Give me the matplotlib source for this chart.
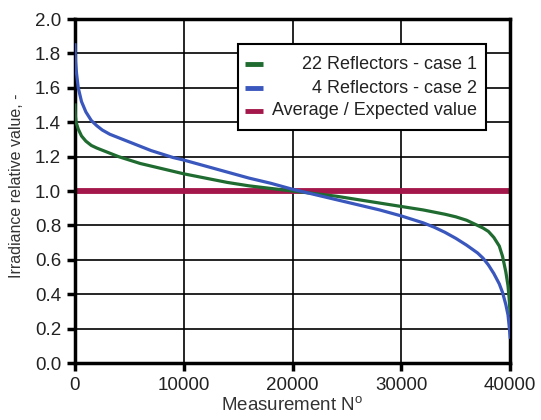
import matplotlib.pyplot as plt
from matplotlib.patches import Rectangle

plt.rcParams['font.family'] = ['Liberation Sans', 'DejaVu Sans']

# irradiance curves, sorted from highest to lowest reading
n_case1 = [0, 30, 100, 300, 600, 1000, 1500, 2000, 3000, 4000, 5000, 6000, 7000,
           8000, 9000, 10000, 12000, 14000, 16000, 18000, 20000, 22000, 24000,
           26000, 28000, 30000, 32000, 34000, 35000, 36000, 37000, 37500, 38000,
           38500, 39000, 39300, 39600, 39800, 39900, 40000]
irr_case1 = [1.50, 1.44, 1.40, 1.36, 1.32, 1.29, 1.265, 1.25, 1.225, 1.20, 1.18,
             1.16, 1.145, 1.13, 1.115, 1.10, 1.075, 1.05, 1.03, 1.015, 1.0, 0.985,
             0.97, 0.95, 0.93, 0.91, 0.89, 0.865, 0.85, 0.83, 0.80, 0.785, 0.765,
             0.73, 0.68, 0.62, 0.53, 0.45, 0.38, 0.29]

n_case2 = [0, 50, 150, 300, 600, 1000, 1500, 2000, 2500, 3200, 4000, 5000, 6000,
           7000, 8000, 9000, 10000, 12000, 14000, 16000, 18000, 20000, 22000,
           24000, 26000, 28000, 30000, 32000, 33000, 34000, 35000, 36000, 37000,
           37500, 38000, 38500, 39000, 39300, 39600, 39800, 39900, 40000]
irr_case2 = [1.85, 1.75, 1.68, 1.60, 1.52, 1.46, 1.41, 1.38, 1.355, 1.33, 1.31,
             1.285, 1.26, 1.235, 1.215, 1.195, 1.18, 1.145, 1.11, 1.075, 1.045,
             1.01, 0.98, 0.95, 0.92, 0.89, 0.855, 0.815, 0.79, 0.76, 0.725, 0.685,
             0.64, 0.61, 0.57, 0.52, 0.46, 0.41, 0.34, 0.28, 0.22, 0.15]

n_avg = [0, 40000]
irr_avg = [1.0, 1.0]

labels = ['22 Reflectors - case 1', '4 Reflectors - case 2', 'Average / Expected value']
colors = ['#1f6b30', '#3a57bd', '#a3174a']

fig = plt.figure(figsize=(5.41, 4.2), dpi=100)
ax = fig.add_axes([0.1386, 0.1357, 0.8044, 0.819])

ax.plot(n_case1, irr_case1, color=colors[0], lw=2.3, zorder=3)
ax.plot(n_case2, irr_case2, color=colors[1], lw=2.3, zorder=3)
ax.plot(n_avg, irr_avg, color=colors[2], lw=4.2, zorder=2)

ax.set_xlim(0, 40000)
ax.set_ylim(0, 2.0)
ax.set_xticks([0, 10000, 20000, 30000, 40000])
ax.set_yticks([i / 10 for i in range(0, 21, 2)])
ax.set_yticklabels(['%.1f' % (i / 10) for i in range(0, 21, 2)])
ax.grid(True, color='black', lw=1.2)
ax.set_axisbelow(True)
for s in ax.spines.values():
    s.set_linewidth(2.5)
ax.tick_params(direction='out', length=6, width=2.5, labelsize=13.5, colors='black',
               labelcolor='#222222', pad=4)

ax.set_xlabel('Measurement N$^\\mathregular{o}$', fontsize=13.5, color='#333333', labelpad=2)
ax.set_ylabel('Irradiance relative value, -', fontsize=11.5, color='#333333', labelpad=8)
ax.yaxis.label.set_y(0.515)

# legend box with right-aligned labels
ax.add_patch(Rectangle((0.375, 0.677), 0.570, 0.250, transform=ax.transAxes,
                       facecolor='white', edgecolor='black', lw=1.5, zorder=5))
rows = [0.869, 0.799, 0.733]
for lab, c, y in zip(labels, colors, rows):
    ax.plot([0.391, 0.432], [y, y], transform=ax.transAxes, color=c, lw=3.5,
            solid_capstyle='butt', zorder=6)
    ax.text(0.924, y, lab, transform=ax.transAxes, ha='right', va='center',
            fontsize=13, color='#222222', zorder=6)

fig.savefig('out.png', dpi=100)
